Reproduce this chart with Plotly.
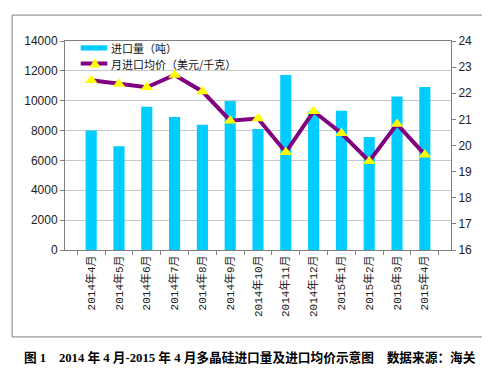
import plotly.graph_objects as go

months = ["2014年4月", "2014年5月", "2014年6月", "2014年7月", "2014年8月", "2014年9月",
          "2014年10月", "2014年11月", "2014年12月", "2015年1月", "2015年2月", "2015年3月", "2015年4月"]
volume = [8000, 6950, 9600, 8910, 8390, 9980, 8100, 11720, 9300, 9330, 7570, 10290, 10920]
price = [22.5, 22.35, 22.23, 22.7, 22.07, 20.95, 21.03, 19.74, 21.31, 20.47, 19.4, 20.82, 19.65]

bar_name = "进口量（吨）"
line_name = "月进口均价（美元/千克）"
caption = "<b>图 1　2014 年 4 月-2015 年 4 月多晶硅进口量及进口均价示意图　数据来源：海关</b>"

BAR_COLOR = "#00CCFF"
LINE_COLOR = "#800080"
MARK_COLOR = "#FFFF00"

fig = go.Figure()
fig.add_trace(go.Bar(x=months, y=volume, name=bar_name, marker=dict(color=BAR_COLOR, line=dict(width=0)),
                     yaxis="y"))
fig.add_trace(go.Scatter(x=months, y=price, name=line_name, yaxis="y2", mode="lines+markers",
                         line=dict(color=LINE_COLOR, width=4),
                         marker=dict(symbol="triangle-up", size=11, color=MARK_COLOR, line=dict(width=0))))

legend_font = dict(family="Noto Sans CJK SC", size=11, color="#111")

shapes = [
    # outer frame
    dict(type="rect", xref="paper", yref="paper", x0=-0.137, x1=1.101, y0=-0.416, y1=1.124,
         line=dict(color="#808080", width=1), fillcolor="rgba(0,0,0,0)", layer="below"),
    # legend background
    dict(type="rect", xref="paper", yref="paper", x0=0.003, x1=0.508, y0=0.847, y1=0.99,
         line=dict(width=0), fillcolor="white", layer="between"),
    # legend swatch: bar
    dict(type="rect", xref="paper", yref="paper", x0=0.0407, x1=0.1096, y0=0.9545, y1=0.9794,
         line=dict(width=0), fillcolor=BAR_COLOR, layer="above"),
    # legend swatch: line
    dict(type="line", xref="paper", yref="paper", x0=0.0407, x1=0.1096, y0=0.8923, y1=0.8923,
         line=dict(color=LINE_COLOR, width=4), layer="above"),
    # legend swatch: triangle marker
    dict(type="path", xref="paper", yref="paper",
         path="M 0.0777 0.9187 L 0.0635 0.8732 L 0.0920 0.8732 Z",
         line=dict(width=0), fillcolor=MARK_COLOR, layer="above"),
]

annotations = [
    dict(text=bar_name, xref="paper", yref="paper", x=0.1132, y=0.9665, showarrow=False,
         xanchor="left", yanchor="middle", font=legend_font),
    dict(text=line_name, xref="paper", yref="paper", x=0.1132, y=0.8923, showarrow=False,
         xanchor="left", yanchor="middle", font=legend_font),
    dict(text=caption, xref="paper", yref="paper", x=0.478, y=-0.512, showarrow=False,
         xanchor="center", yanchor="middle",
         font=dict(family="Liberation Serif, Noto Sans CJK SC", size=12.7, color="#000")),
]

axis_font = dict(family="Liberation Sans, Noto Sans CJK SC", size=12, color="#222")
fig.update_layout(
    width=490, height=379,
    margin=dict(l=57, r=47, t=33, b=137),
    paper_bgcolor="white", plot_bgcolor="white",
    bargap=0.6,
    showlegend=False,
    xaxis=dict(type="category", showline=True, linecolor="#808080", linewidth=1, mirror=True,
               ticks="outside", tickson="boundaries", ticklen=4, tickcolor="#808080",
               tickangle=-90, tickfont=dict(family="Liberation Mono, Noto Sans CJK SC", size=11, color="#222"),
               showgrid=False),
    yaxis=dict(range=[0, 14000], dtick=2000, tickformat="d", showline=True, linecolor="#808080", linewidth=1,
               ticks="outside", ticklen=4, tickcolor="#808080", gridcolor="#C8C8C8", gridwidth=1,
               tickfont=axis_font, zeroline=False),
    yaxis2=dict(range=[16, 24], dtick=1, overlaying="y", side="right", showline=True,
                linecolor="#808080", linewidth=1, ticks="outside", ticklen=4, tickcolor="#808080",
                showgrid=False, tickfont=axis_font, zeroline=False),
    shapes=shapes,
    annotations=annotations,
)

fig.write_html("out.html")
